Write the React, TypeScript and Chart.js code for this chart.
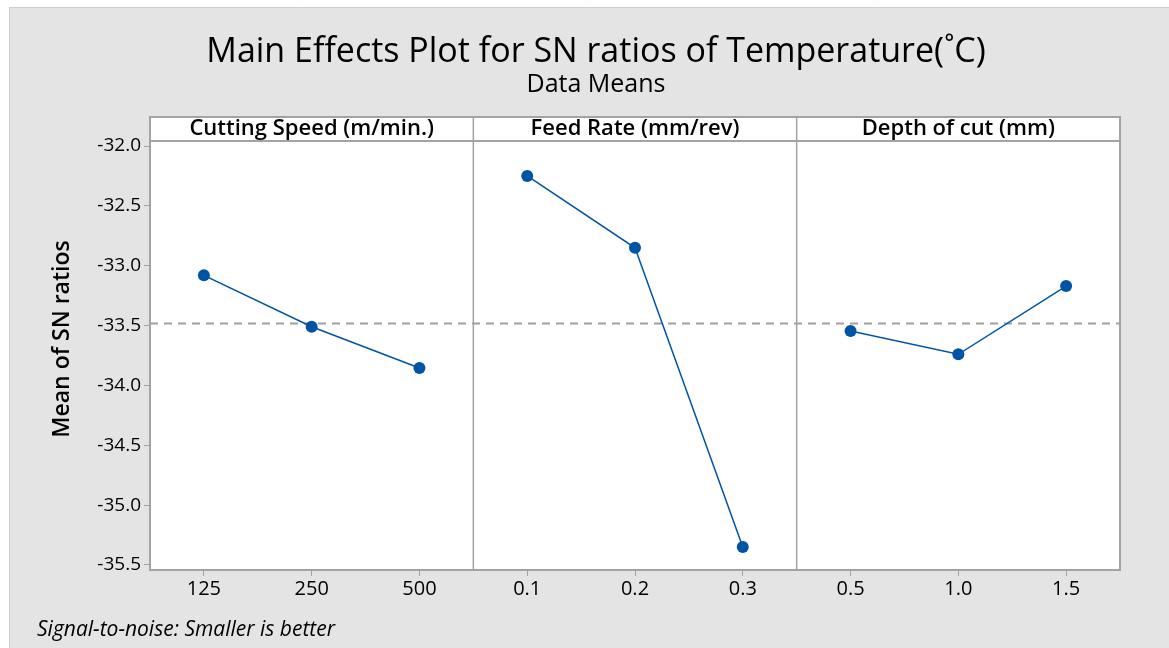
import React, { useEffect, useRef } from "react";
import { Chart, registerables } from "chart.js";

Chart.register(...registerables);

const TITLE = "Main Effects Plot for SN ratios of Temperature(˚C)";
const SUBTITLE = "Data Means";
const Y_TITLE = "Mean of SN ratios";
const FOOTNOTE = "Signal-to-noise: Smaller is better";

const FACTORS = ["Cutting Speed (m/min.)", "Feed Rate (mm/rev)", "Depth of cut (mm)"];
const SPEED_LEVELS = ["125", "250", "500"];
const SPEED_SN = [-33.08, -33.51, -33.855];
const FEED_LEVELS = ["0.1", "0.2", "0.3"];
const FEED_SN = [-32.25, -32.85, -35.35];
const DEPTH_LEVELS = ["0.5", "1.0", "1.5"];
const DEPTH_SN = [-33.545, -33.74, -33.17];
const Y_TICKS = [-32.0, -32.5, -33.0, -33.5, -34.0, -34.5, -35.0, -35.5];
const Y_MIN = -35.542;
const Y_MAX = -31.958;

const FONT = "'Open Sans', 'Noto Sans', sans-serif";
const BLUE = "#0054a6";
const FRAME = "#a3a3a3";

export default function App() {
  const ref = useRef<HTMLCanvasElement | null>(null);

  useEffect(() => {
    document.body.style.margin = "0";
    const canvas = ref.current;
    if (!canvas) return;

    const levels = [SPEED_LEVELS, FEED_LEVELS, DEPTH_LEVELS];
    const values = [SPEED_SN, FEED_SN, DEPTH_SN];
    const nPanels = levels.length;
    const perPanel = 3;
    const total = nPanels * perPanel;
    const allLabels = levels.flat();
    const tickPositions = allLabels.map((_, i) => i + 0.5);
    const allVals = values.flat();
    const grandMean = allVals.reduce((a, b) => a + b, 0) / allVals.length;

    const panelSets = values.map((vals, p) => ({
      label: FACTORS[p],
      data: vals.map((v, i) => ({ x: p * perPanel + i + 0.5, y: v })),
      borderColor: BLUE,
      backgroundColor: BLUE,
      pointBackgroundColor: BLUE,
      pointBorderColor: BLUE,
      pointRadius: 6,
      pointBorderWidth: 0,
      borderWidth: 1.5,
      tension: 0,
      order: 1,
    }));

    const meanSet = {
      label: "mean",
      data: [
        { x: 0, y: grandMean },
        { x: total, y: grandMean },
      ],
      borderColor: "#a0a0a0",
      borderWidth: 2,
      borderDash: [8, 6],
      pointRadius: 0,
      order: 2,
    };

    const decor = {
      id: "decor",
      beforeDraw(chart: any) {
        const { ctx, width, height } = chart;
        ctx.save();
        ctx.fillStyle = "#ffffff";
        ctx.fillRect(0, 0, width, height);
        ctx.fillStyle = "#e4e4e4";
        ctx.fillRect(9, 7, width - 9, height - 7);
        ctx.strokeStyle = "#cdcdcd";
        ctx.lineWidth = 1;
        ctx.beginPath();
        ctx.moveTo(9.5, height);
        ctx.lineTo(9.5, 7.5);
        ctx.lineTo(width, 7.5);
        ctx.stroke();
        const a = chart.chartArea;
        ctx.fillStyle = "#ffffff";
        ctx.fillRect(a.left, a.top, a.right - a.left, a.bottom - a.top);
        ctx.restore();
      },
      afterDraw(chart: any) {
        const { ctx } = chart;
        const a = chart.chartArea;
        const xs = chart.scales.x;
        ctx.save();
        // header strip
        const hTop = a.top - 24;
        ctx.fillStyle = "#ffffff";
        ctx.fillRect(a.left, hTop, a.right - a.left, 24);
        ctx.strokeStyle = FRAME;
        ctx.lineWidth = 2;
        ctx.strokeRect(a.left, hTop, a.right - a.left, a.bottom - hTop);
        ctx.beginPath();
        ctx.moveTo(a.left, a.top);
        ctx.lineTo(a.right, a.top);
        ctx.stroke();
        ctx.lineWidth = 1.5;
        for (let p = 1; p < nPanels; p++) {
          const px = xs.getPixelForValue(p * perPanel);
          ctx.beginPath();
          ctx.moveTo(px, hTop);
          ctx.lineTo(px, a.bottom);
          ctx.stroke();
        }
        ctx.fillStyle = "#000";
        ctx.font = `600 22px ${FONT}`;
        ctx.textAlign = "center";
        ctx.textBaseline = "middle";
        for (let p = 0; p < nPanels; p++) {
          const cx = (xs.getPixelForValue(p * perPanel) + xs.getPixelForValue((p + 1) * perPanel)) / 2;
          ctx.fillText(FACTORS[p], cx, hTop + 12);
        }
        // y title
        ctx.save();
        ctx.translate(62, 339);
        ctx.rotate(-Math.PI / 2);
        ctx.font = `600 23px ${FONT}`;
        ctx.fillText(Y_TITLE, 0, 0);
        ctx.restore();
        // footnote
        ctx.textAlign = "left";
        ctx.font = `italic 21px ${FONT}`;
        ctx.fillText(FOOTNOTE, 37, 630);
        ctx.restore();
      },
    };

    const chart = new Chart(canvas, {
      type: "line",
      data: { datasets: [...panelSets, meanSet] as any },
      options: {
        animation: false,
        responsive: false,
        layout: { padding: { left: 72, right: 49, top: 0, bottom: 0 } },
        plugins: {
          legend: { display: false },
          tooltip: { enabled: false },
          title: {
            display: true,
            text: TITLE,
            color: "#000",
            font: { family: FONT, size: 34, weight: "normal", lineHeight: 1 },
            padding: { top: 35, bottom: 3 },
          },
          subtitle: {
            display: true,
            text: SUBTITLE,
            color: "#000",
            font: { family: FONT, size: 25, weight: "normal", lineHeight: 1 },
            padding: { top: 0, bottom: 44 },
          },
        },
        scales: {
          x: {
            type: "linear",
            min: 0,
            max: total,
            afterBuildTicks: (s: any) => {
              s.ticks = tickPositions.map((v) => ({ value: v }));
            },
            afterFit: (s: any) => {
              s.height = 78;
            },
            ticks: {
              autoSkip: false,
              maxRotation: 0,
              color: "#000",
              font: { family: FONT, size: 20, weight: "500" },
              padding: 1,
              callback: (_v: any, i: number) => allLabels[i],
            },
            grid: { drawOnChartArea: false, drawTicks: true, tickLength: 6, color: FRAME },
            border: { display: false },
          },
          y: {
            type: "linear",
            min: Y_MIN,
            max: Y_MAX,
            afterBuildTicks: (s: any) => {
              s.ticks = Y_TICKS.map((v) => ({ value: v }));
            },
            afterFit: (s: any) => {
              s.width = 78;
            },
            ticks: {
              color: "#000",
              font: { family: FONT, size: 19, weight: "500" },
              padding: 3,
              callback: (v: any) => Number(v).toFixed(1),
            },
            grid: { drawOnChartArea: false, drawTicks: true, tickLength: 6, color: FRAME },
            border: { display: false },
          },
        },
      },
      plugins: [decor],
    });

    return () => chart.destroy();
  }, []);

  return (
    <div style={{ width: 1169, height: 648 }}>
      <canvas ref={ref} width={1169} height={648} style={{ display: "block" }} />
    </div>
  );
}
